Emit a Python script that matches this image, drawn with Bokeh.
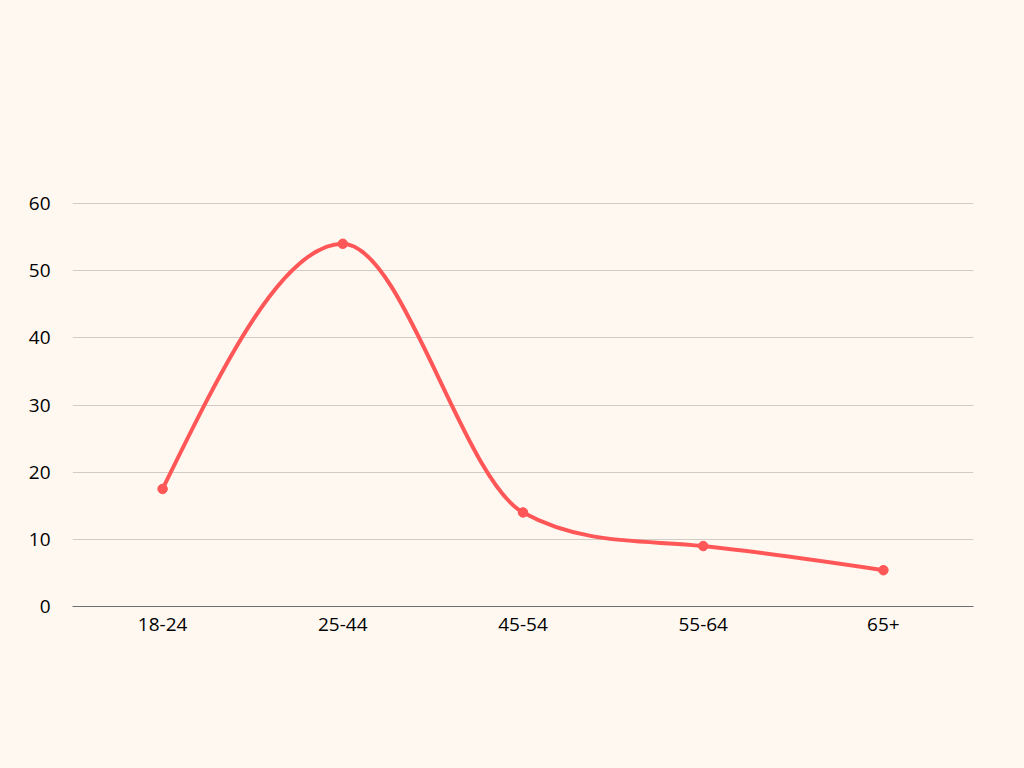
from bokeh.plotting import figure
from bokeh.models import Range1d, FixedTicker, ColumnDataSource
from bokeh.embed import file_html
from bokeh.resources import INLINE
import math

categories = ["18-24", "25-44", "45-54", "55-64", "65+"]
values = [17.5, 54, 14, 9, 5.4]
y_ticks = [0, 10, 20, 30, 40, 50, 60]

BG = "#FFF8F1"
RED = "#FF5757"
FONT = "Open Sans"

xs = [i + 0.5 for i in range(len(categories))]


def monotone_tangents(x, y):
    # Fritsch-Carlson monotone cubic tangents, quadratic-style end tangents
    n = len(x)
    d = [(y[i + 1] - y[i]) / (x[i + 1] - x[i]) for i in range(n - 1)]
    m = [0.0] * n
    for i in range(1, n - 1):
        if d[i - 1] * d[i] <= 0:
            m[i] = 0.0
        else:
            m[i] = (d[i - 1] + d[i]) / 2
    m[0] = d[0]
    m[-1] = d[-1]
    for i in range(n - 1):
        if d[i] == 0:
            m[i] = m[i + 1] = 0.0
            continue
        a = m[i] / d[i]
        b = m[i + 1] / d[i]
        s = a * a + b * b
        if s > 9:
            tau = 3 / math.sqrt(s)
            m[i] = tau * a * d[i]
            m[i + 1] = tau * b * d[i]
    m[0] = (3 * d[0] - m[1]) / 2
    m[-1] = (3 * d[-1] - m[-2]) / 2
    return m


tan = monotone_tangents(xs, values)
seg = dict(x0=[], y0=[], x1=[], y1=[], cx0=[], cy0=[], cx1=[], cy1=[])
for i in range(len(xs) - 1):
    dx = (xs[i + 1] - xs[i]) / 3
    seg["x0"].append(xs[i]); seg["y0"].append(values[i])
    seg["x1"].append(xs[i + 1]); seg["y1"].append(values[i + 1])
    seg["cx0"].append(xs[i] + dx); seg["cy0"].append(values[i] + dx * tan[i])
    seg["cx1"].append(xs[i + 1] - dx); seg["cy1"].append(values[i + 1] - dx * tan[i + 1])

p = figure(width=1024, height=768, output_backend="svg", toolbar_location=None,
           x_range=Range1d(0, len(categories)), y_range=Range1d(0, 60.15),
           min_border_left=72, min_border_right=51, min_border_top=202, min_border_bottom=162)
p.background_fill_color = BG
p.border_fill_color = BG
p.outline_line_color = None

p.bezier(x0="x0", y0="y0", x1="x1", y1="y1", cx0="cx0", cy0="cy0", cx1="cx1", cy1="cy1",
         source=ColumnDataSource(seg), line_color=RED, line_width=4)
p.scatter(xs, values, size=9.5, fill_color=RED, line_color=RED)

p.xgrid.grid_line_color = None
p.ygrid.grid_line_color = "#D4CCC4"
p.ygrid.grid_line_width = 1
p.yaxis.ticker = FixedTicker(ticks=y_ticks)
p.xaxis.ticker = FixedTicker(ticks=xs)
p.xaxis.major_label_overrides = {x: c for x, c in zip(xs, categories)}

for ax in (p.xaxis, p.yaxis):
    ax.major_tick_line_color = None
    ax.minor_tick_line_color = None
    ax.major_label_text_font = FONT
    ax.major_label_text_font_size = "19px"
    ax.major_label_text_color = "#000000"
p.yaxis.axis_line_color = None
p.yaxis.major_label_standoff = 16
p.xaxis.axis_line_color = "#6E6E6E"
p.xaxis.axis_line_width = 1
p.xaxis.major_label_standoff = 5

html = file_html(p, INLINE)
html = html.replace("<head>", "<head><style>html,body{background:%s;}</style>" % BG, 1)
open("out.html", "w").write(html)
